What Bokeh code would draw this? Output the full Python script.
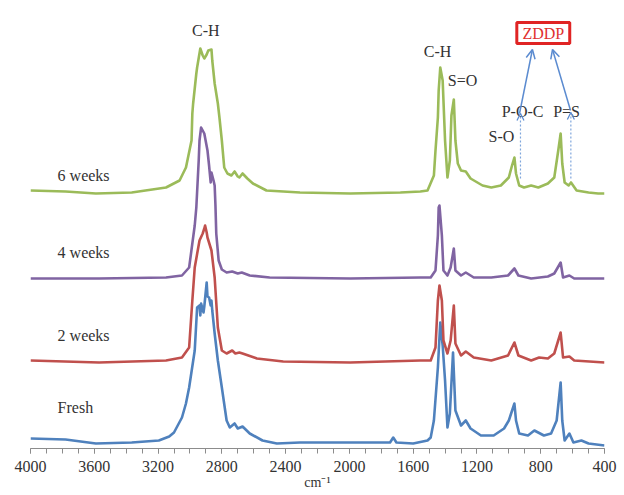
from bokeh.plotting import figure
from bokeh.models import Range1d, SingleIntervalTicker, Label, Arrow, OpenHead, BoxAnnotation
from bokeh.embed import file_html
from bokeh.resources import INLINE

# ---- data (wavenumber in cm-1, stacked intensity in arbitrary units) ----
wn_6w = [4000, 3780, 3590, 3365, 3150, 3065, 3025, 2990, 2985, 2980, 2960, 2955, 2935, 2920, 2910, 2895,
         2885, 2865, 2860, 2845, 2825, 2815, 2800, 2785, 2765, 2740, 2720, 2700, 2690, 2670, 2640, 2605,
         2520, 2310, 1995, 1680, 1555, 1510, 1470, 1460, 1445, 1440, 1430, 1415, 1400, 1385, 1370, 1360,
         1345, 1335, 1320, 1300, 1270, 1240, 1165, 1110, 1050, 1000, 980, 965, 955, 935, 905, 860, 815,
         755, 715, 690, 675, 665, 650, 625, 610, 575, 500, 440, 400]
ab_6w = [256, 255, 253, 254, 259, 266, 279, 306, 333, 343, 373, 379, 398, 391, 388, 392,
         396, 397, 386, 363, 343, 329, 306, 279, 273, 271, 275, 270, 269, 273, 268, 263,
         256, 254, 253, 254, 255, 256, 271, 296, 329, 356, 379, 366, 306, 269, 286, 331,
         347, 306, 283, 276, 275, 268, 261, 259, 261, 269, 281, 289, 273, 261, 259, 261, 259,
         263, 269, 296, 313, 283, 264, 261, 264, 256, 254, 253, 253]

wn_4w = [4000, 3570, 3150, 3050, 3005, 2985, 2970, 2960, 2945, 2940, 2930, 2910, 2890, 2880, 2870, 2865,
         2852, 2845, 2840, 2835, 2820, 2800, 2770, 2735, 2700, 2675, 2625, 2500, 1995, 1555, 1490, 1460,
         1445, 1440, 1435, 1420, 1410, 1385, 1365, 1345, 1335, 1300, 1270, 1220, 1110, 1005, 965, 940,
         860, 755, 715, 675, 660, 620, 590, 400]
ab_4w = [168, 168, 169, 171, 179, 203, 221, 239, 286, 306, 319, 313, 296, 281, 264, 274,
         266, 261, 241, 213, 186, 177, 174, 175, 173, 174, 171, 169, 168, 169, 169, 176,
         211, 239, 241, 211, 176, 171, 179, 198, 176, 171, 174, 169, 169, 171, 178, 171,
         168, 170, 173, 184, 169, 171, 168, 168]

wn_2w = [4000, 3570, 3150, 3050, 3005, 2985, 2970, 2940, 2920, 2910, 2905, 2895, 2890, 2865, 2845, 2825,
         2800, 2770, 2735, 2715, 2690, 2670, 2580, 2415, 1995, 1555, 1490, 1460, 1445, 1435, 1420, 1410,
         1385, 1365, 1345, 1335, 1300, 1270, 1220, 1110, 1005, 965, 940, 860, 810, 755, 715, 675,
         660, 620, 590, 400]
ab_2w = [86, 84, 86, 89, 99, 146, 179, 206, 213, 218, 221, 214, 209, 196, 169, 119,
         96, 93, 96, 93, 94, 93, 88, 85, 84, 86, 86, 99, 146, 161, 146, 106,
         93, 106, 141, 103, 91, 95, 89, 86, 91, 104, 91, 86, 89, 88, 93, 114,
         89, 90, 86, 84]

wn_fresh = [4000, 3780, 3590, 3365, 3195, 3130, 3100, 3050, 3025, 3005, 2970, 2955, 2940, 2935, 2930, 2915,
            2910, 2895, 2890, 2880, 2870, 2865, 2860, 2845, 2825, 2800, 2770, 2750, 2720, 2700, 2670, 2625,
            2545, 2455, 2310, 1995, 1745, 1725, 1705, 1600, 1510, 1490, 1470, 1445, 1430, 1415, 1400, 1385,
            1370, 1350, 1335, 1300, 1270, 1240, 1175, 1095, 1030, 1000, 965, 955, 935, 880, 840, 780,
            735, 700, 675, 665, 650, 620, 595, 545, 500, 400]
ab_fresh = [8, 7, 3, 4, 6, 10, 14, 29, 43, 59, 96, 139, 141, 131, 143, 134,
            140, 164, 150, 149, 141, 146, 136, 113, 86, 59, 26, 19, 23, 18, 20, 13,
            6, 3, 4, 4, 4, 9, 4, 3, 6, 9, 26, 79, 124, 101, 66, 19,
            33, 94, 36, 21, 26, 18, 11, 11, 18, 26, 43, 26, 13, 11, 16, 11,
            13, 26, 64, 26, 6, 13, 4, 6, 3, 1]

series_names = ["Fresh", "2 weeks", "4 weeks", "6 weeks"]
series_colors = ["#4f81bd", "#c0504d", "#8064a2", "#9bbb59"]
series_wn = [wn_fresh, wn_2w, wn_4w, wn_6w]
series_ab = [ab_fresh, ab_2w, ab_4w, ab_6w]
name_y = [39, 111, 194, 271]

FONT = "Liberation Serif"

p = figure(width=624, height=495, output_backend="svg", toolbar_location=None,
           x_range=Range1d(4000, 400), y_range=Range1d(-2, 446),
           y_axis_location=None, min_border_left=30, min_border_right=20,
           min_border_top=0, min_border_bottom=47)
p.outline_line_color = None
p.xgrid.visible = False
p.ygrid.visible = False
p.background_fill_color = "white"
p.border_fill_color = "white"

for wn, ab, col in zip(series_wn, series_ab, series_colors):
    p.line(wn, ab, line_color=col, line_width=2.6, line_join="round")

ax = p.xaxis[0]
ax.ticker = SingleIntervalTicker(interval=400, num_minor_ticks=4)
ax.axis_line_color = "#8c8c8c"
ax.major_tick_line_color = "#8c8c8c"
ax.minor_tick_line_color = "#8c8c8c"
ax.major_tick_out = 5
ax.major_tick_in = 0
ax.minor_tick_out = 5
ax.minor_tick_in = 0
ax.major_label_text_font = FONT
ax.major_label_text_font_size = "16px"
ax.major_label_text_color = "#333333"
ax.major_label_standoff = 7
ax.axis_label = "cm\u207b\u00b9"
ax.axis_label_text_font = FONT
ax.axis_label_text_font_size = "14px"
ax.axis_label_text_font_style = "normal"
ax.axis_label_text_color = "#333333"
ax.axis_label_standoff = 0

# series names
for name, yv in zip(series_names, name_y):
    p.add_layout(Label(x=3830, y=yv, text=name, text_font=FONT, text_font_size="16px",
                       text_color="#333333", text_baseline="middle", text_align="left"))

# peak annotations
ann = [("C-H", 2900, 416), ("C-H", 1447, 395), ("S=O", 1290, 366), ("S-O", 1046, 310),
       ("P-O-C", 914, 335), ("P=S", 638, 335)]
for t, xv, yv in ann:
    p.add_layout(Label(x=xv, y=yv, text=t, text_font=FONT, text_font_size="16px",
                       text_color="#333333", text_baseline="middle", text_align="center"))

# ZDDP box
p.add_layout(BoxAnnotation(left=950, right=618, bottom=403, top=424, fill_color="white",
                           fill_alpha=1, line_color="#e02424", line_alpha=1, line_width=3))
p.add_layout(Label(x=784, y=413.5, text="ZDDP", text_font=FONT, text_font_size="16px",
                   text_color="#e03030", text_baseline="middle", text_align="center"))

# dotted guide lines with small heads
p.segment(x0=[927, 611], y0=[268, 268], x1=[927, 611], y1=[333, 334],
          line_color="#7fa6dc", line_width=1.2, line_dash="2 2")
for xv, yv in [(927, 333), (611, 334)]:
    p.add_layout(Arrow(end=OpenHead(size=7, line_color="#5b8bd0", line_width=1.3),
                       x_start=xv, y_start=yv - 6, x_end=xv, y_end=yv,
                       line_alpha=0))
# arrows to ZDDP
p.add_layout(Arrow(end=OpenHead(size=9, line_color="#5b8bd0", line_width=1.5),
                   x_start=933, y_start=333, x_end=852, y_end=397,
                   line_color="#5b8bd0", line_width=1.5))
p.add_layout(Arrow(end=OpenHead(size=9, line_color="#5b8bd0", line_width=1.5),
                   x_start=613, y_start=336, x_end=726, y_end=397,
                   line_color="#5b8bd0", line_width=1.5))

open("out.html", "w").write(file_html(p, INLINE))
